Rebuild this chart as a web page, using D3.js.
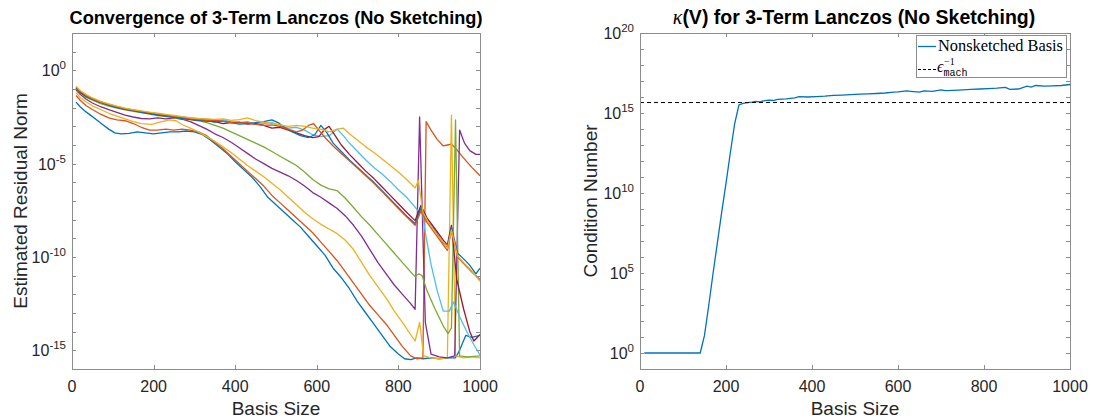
<!DOCTYPE html>
<html>
<head>
<meta charset="utf-8">
<script src="https://cdn.jsdelivr.net/npm/d3@7"></script>
<style>
  body { margin: 0; background: #fff; }
  svg { display: block; }
  text { font-family: "Liberation Sans", Arial, Helvetica, sans-serif; fill: #262626; }
</style>
</head>
<body>
<svg id="fig" width="1093" height="419"></svg>
<script>
// ---- Residual history: [basis size, log10 estimated residual norm] ----
const resid1 = [[10,-1.7],[20,-1.95],[30,-2.15],[45,-2.4],[60,-2.65],[75,-2.9],[90,-3.15],[105,-3.35],[120,-3.4],[140,-3.38],[160,-3.3],[180,-3.35],[200,-3.4],[220,-3.35],[240,-3.3],[260,-3.3],[280,-3.25],[300,-3.3],[320,-3.45],[340,-3.75],[360,-4.1],[380,-4.45],[400,-4.9],[420,-5.3],[440,-5.7],[460,-6.2],[480,-6.8],[500,-7.2],[520,-7.6],[540,-8.0],[560,-8.4],[580,-8.9],[600,-9.4],[620,-9.9],[640,-10.6],[660,-11.1],[680,-11.7],[700,-12.4],[720,-13.0],[740,-13.6],[760,-14.2],[780,-14.8],[800,-15.2],[815,-15.45],[830,-15.5],[845,-15.4],[860,-15.45],[880,-15.4],[900,-15.45],[920,-15.4],[940,-15.4],[950,-15.0],[965,-14.2],[980,-14.3],[1000,-14.2]];
const resid2 = [[10,-1.35],[20,-1.6],[35,-1.9],[50,-2.1],[70,-2.35],[90,-2.55],[110,-2.65],[130,-2.7],[150,-2.85],[170,-3.05],[190,-3.2],[210,-3.2],[230,-3.15],[250,-3.2],[270,-3.15],[290,-3.2],[310,-3.3],[330,-3.5],[350,-3.85],[370,-4.2],[390,-4.6],[410,-5.0],[430,-5.4],[450,-5.8],[470,-6.2],[490,-6.7],[510,-7.1],[530,-7.5],[550,-7.9],[570,-8.3],[590,-8.7],[610,-9.2],[630,-9.7],[650,-10.2],[670,-10.8],[690,-11.4],[710,-12.0],[730,-12.6],[750,-13.1],[770,-13.6],[790,-14.2],[810,-14.8],[830,-15.3],[845,-15.45],[860,-15.4],[868,-2.75],[880,-3.2],[895,-3.7],[910,-4.05],[920,-4.0],[930,-3.95],[945,-4.3],[960,-4.7],[980,-5.2],[1000,-5.65]];
const resid3 = [[10,-1.2],[20,-1.45],[35,-1.7],[50,-1.9],[70,-2.1],[90,-2.3],[110,-2.45],[130,-2.6],[150,-2.75],[170,-2.85],[195,-2.9],[220,-2.75],[240,-2.65],[255,-2.7],[270,-2.9],[290,-3.1],[310,-3.3],[330,-3.55],[350,-3.8],[370,-4.1],[390,-4.4],[410,-4.75],[430,-5.1],[450,-5.4],[470,-5.7],[490,-6.05],[510,-6.4],[530,-6.8],[550,-7.2],[570,-7.6],[590,-7.95],[610,-8.25],[630,-8.5],[650,-8.75],[670,-9.1],[690,-9.6],[710,-10.3],[730,-11.0],[750,-11.6],[770,-12.2],[790,-12.9],[810,-13.5],[825,-14.0],[841,-14.5],[852,-13.5],[862,-15.3],[880,-15.4],[900,-15.45],[920,-15.4],[930,-2.4],[940,-15.3],[960,-15.4],[980,-15.35],[1000,-15.4]];
const resid4 = [[10,-1.05],[20,-1.28],[35,-1.55],[50,-1.75],[70,-1.95],[90,-2.1],[110,-2.25],[130,-2.4],[150,-2.5],[170,-2.58],[190,-2.6],[210,-2.55],[230,-2.6],[250,-2.55],[270,-2.62],[290,-2.75],[310,-2.95],[330,-3.15],[350,-3.4],[370,-3.6],[390,-3.85],[410,-4.15],[430,-4.45],[450,-4.75],[470,-5.0],[490,-5.25],[510,-5.45],[530,-5.65],[550,-5.9],[570,-6.2],[590,-6.55],[610,-6.8],[630,-7.1],[650,-7.4],[670,-7.8],[690,-8.3],[710,-8.9],[730,-9.6],[750,-10.3],[770,-10.9],[790,-11.5],[810,-12.0],[830,-12.5],[841,-12.8],[852,-2.5],[866,-13.5],[880,-15.2],[900,-15.35],[920,-15.4],[938,-15.3],[950,-3.2],[962,-3.9],[975,-4.3],[990,-4.5],[1000,-4.5]];
const resid5 = [[10,-1.0],[20,-1.22],[35,-1.45],[50,-1.6],[70,-1.78],[90,-1.92],[110,-2.03],[130,-2.12],[150,-2.2],[170,-2.27],[190,-2.35],[210,-2.42],[230,-2.48],[250,-2.53],[270,-2.58],[290,-2.64],[310,-2.7],[330,-2.8],[350,-2.95],[370,-3.1],[390,-3.3],[410,-3.5],[430,-3.7],[450,-3.9],[470,-4.1],[490,-4.35],[510,-4.6],[530,-4.85],[550,-5.1],[570,-5.45],[590,-5.85],[610,-6.15],[630,-6.35],[650,-6.45],[670,-6.85],[690,-7.35],[710,-7.85],[730,-8.3],[750,-8.8],[770,-9.3],[790,-9.8],[810,-10.3],[830,-10.8],[841,-11.05],[850,-10.9],[858,-11.0],[870,-11.8],[890,-12.8],[910,-13.7],[922,-14.1],[930,-13.8],[940,-2.65],[950,-15.3],[970,-15.35],[1000,-15.3]];
const resid6 = [[10,-0.95],[20,-1.15],[35,-1.35],[50,-1.5],[70,-1.68],[90,-1.82],[110,-1.95],[130,-2.05],[150,-2.12],[170,-2.2],[190,-2.28],[210,-2.35],[230,-2.4],[250,-2.45],[270,-2.5],[290,-2.55],[310,-2.6],[330,-2.62],[350,-2.7],[370,-2.65],[390,-2.75],[410,-2.8],[430,-2.75],[450,-2.9],[470,-2.85],[490,-2.8],[510,-2.95],[530,-3.1],[550,-3.05],[570,-3.2],[590,-3.45],[610,-3.55],[630,-3.5],[650,-3.15],[665,-3.5],[680,-3.9],[700,-4.35],[720,-4.8],[740,-5.2],[760,-5.55],[780,-5.95],[800,-6.4],[820,-6.8],[840,-7.3],[850,-7.6],[856,-7.2],[866,-8.7],[880,-10.4],[895,-11.8],[910,-12.9],[925,-12.9],[935,-12.4],[950,-13.2],[970,-14.1],[985,-14.7],[1000,-15.25]];
const resid7 = [[10,-0.95],[20,-1.18],[35,-1.4],[50,-1.55],[70,-1.72],[90,-1.85],[110,-1.98],[130,-2.08],[150,-2.15],[170,-2.22],[190,-2.3],[210,-2.38],[230,-2.42],[250,-2.5],[270,-2.55],[290,-2.62],[310,-2.68],[330,-2.72],[350,-2.75],[370,-2.85],[390,-2.8],[410,-2.78],[430,-2.88],[450,-2.85],[470,-2.95],[490,-3.1],[510,-3.05],[530,-3.2],[550,-3.35],[570,-3.5],[590,-3.6],[605,-3.55],[620,-3.15],[630,-3.0],[645,-3.5],[660,-4.0],[680,-4.5],[700,-4.95],[720,-5.4],[740,-5.8],[760,-6.25],[780,-6.7],[800,-7.15],[820,-7.6],[841,-8.05],[855,-7.25],[870,-7.9],[890,-8.5],[910,-9.1],[920,-9.35],[930,-8.3],[943,-11.2],[960,-12.8],[975,-14.0],[985,-14.5],[1000,-14.15]];
const resid8 = [[10,-0.92],[20,-1.15],[35,-1.38],[50,-1.55],[70,-1.72],[90,-1.86],[110,-1.98],[130,-2.08],[150,-2.16],[170,-2.25],[190,-2.32],[210,-2.38],[230,-2.45],[250,-2.5],[270,-2.58],[290,-2.62],[310,-2.66],[330,-2.7],[350,-2.78],[370,-2.72],[390,-2.8],[410,-2.88],[430,-2.85],[450,-2.8],[470,-2.75],[490,-2.65],[505,-2.8],[520,-3.05],[540,-3.3],[560,-3.5],[580,-3.6],[595,-3.45],[610,-2.95],[625,-3.35],[640,-3.9],[660,-4.35],[680,-4.8],[700,-5.2],[720,-5.6],[740,-6.0],[760,-6.45],[780,-6.9],[800,-7.35],[820,-7.8],[841,-8.2],[855,-7.4],[870,-8.05],[890,-8.6],[910,-9.25],[920,-9.5],[930,-8.4],[945,-9.8],[960,-10.1],[975,-10.45],[990,-10.9],[1000,-10.6]];
const resid9 = [[10,-0.9],[20,-1.12],[35,-1.35],[50,-1.52],[70,-1.7],[90,-1.83],[110,-1.95],[130,-2.05],[150,-2.13],[170,-2.2],[190,-2.26],[210,-2.33],[230,-2.4],[250,-2.46],[270,-2.52],[290,-2.58],[310,-2.62],[330,-2.68],[350,-2.66],[370,-2.74],[390,-2.8],[410,-2.82],[430,-2.8],[450,-2.9],[470,-2.95],[490,-2.92],[510,-3.0],[530,-3.15],[550,-3.3],[565,-3.2],[580,-2.95],[592,-2.85],[605,-3.2],[620,-3.6],[640,-4.05],[660,-4.45],[680,-4.85],[700,-5.25],[720,-5.65],[740,-6.05],[760,-6.5],[780,-6.95],[800,-7.4],[820,-7.85],[841,-8.3],[855,-7.55],[870,-8.15],[890,-8.75],[910,-9.35],[920,-9.65],[930,-8.6],[945,-10.0],[960,-10.35],[980,-10.8],[1000,-11.2]];
const resid10 = [[10,-0.85],[20,-1.08],[35,-1.3],[50,-1.48],[70,-1.66],[90,-1.8],[110,-1.92],[130,-2.02],[150,-2.1],[170,-2.17],[190,-2.24],[210,-2.3],[230,-2.36],[250,-2.42],[270,-2.48],[290,-2.54],[310,-2.58],[330,-2.6],[350,-2.63],[370,-2.6],[390,-2.68],[410,-2.64],[430,-2.55],[450,-2.7],[470,-2.78],[490,-2.85],[510,-2.92],[530,-3.0],[550,-2.95],[570,-3.0],[590,-3.1],[610,-3.15],[630,-3.3],[650,-3.15],[665,-3.1],[680,-3.4],[700,-3.75],[720,-4.1],[740,-4.4],[760,-4.75],[780,-5.1],[800,-5.45],[820,-5.85],[841,-6.3],[849,-5.9],[860,-7.6],[875,-8.2],[895,-8.8],[910,-9.2],[920,-9.55],[930,-8.55],[945,-9.95],[960,-10.3],[980,-10.75],[1000,-11.3]];

const residSeries = [resid1, resid2, resid3, resid4, resid5, resid6, resid7, resid8, resid9, resid10];
const lineColors = ["#0072BD", "#D95319", "#EDB120", "#7E2F8E", "#77AC30", "#4DBEEE", "#A2142F", "#0072BD", "#D95319", "#EDB120"];

// ---- Condition number of the Krylov basis: [basis size, log10 kappa(V)] ----
const kappaBasis = [[10,0],[20,0],[40,0],[60,0],[80,0],[100,0],[120,0],[140,0],[150,1.1],[160,3.0],[170,5.0],[180,6.9],[190,8.8],[200,10.6],[210,12.5],[220,14.3],[230,15.5],[240,15.6],[250,15.65],[260,15.68],[270,15.72],[280,15.7],[290,15.78],[300,15.8],[310,15.78],[320,15.85],[340,15.88],[360,15.95],[370,16.02],[390,16.0],[410,16.02],[430,16.05],[450,16.1],[470,16.12],[490,16.15],[510,16.18],[530,16.2],[550,16.22],[570,16.25],[590,16.3],[600,16.32],[620,16.38],[630,16.35],[650,16.3],[660,16.38],[680,16.35],[700,16.45],[710,16.4],[730,16.42],[750,16.45],[770,16.48],[790,16.5],[810,16.52],[830,16.55],[850,16.6],[860,16.48],[880,16.5],[900,16.68],[910,16.62],[920,16.72],[940,16.68],[960,16.7],[980,16.72],[1000,16.78]];
const epsMachInv = Math.pow(2, 52);

// ---- Axis ticks ----
const xTicks = [0, 200, 400, 600, 800, 1000];
const residExpLabels = [-15, -10, -5, 0];
const kappaExpLabels = [0, 5, 10, 15, 20];

const svg = d3.select("#fig");
const axisColor = "#8c8c8c";
const serif = "'Liberation Serif', 'Times New Roman', serif";

function superLabel(g, x, y, exp, anchor) {
  const t = g.append("text").attr("x", x).attr("y", y)
    .attr("text-anchor", anchor).style("font-size", "16px");
  t.append("tspan").text("10");
  t.append("tspan").attr("dy", -7).style("font-size", "11.5px").text(String(exp));
  return t;
}

function drawFrame(g, x, y, expMin, expMax, labelExps) {
  const [x0, x1] = x.range();
  const [y1, y0] = y.range();
  const tk = 4;
  // box
  g.append("rect").attr("x", x0).attr("y", y0).attr("width", x1 - x0).attr("height", y1 - y0)
    .attr("fill", "none").attr("stroke", axisColor).attr("stroke-width", 1).attr("shape-rendering", "crispEdges");
  // x ticks (bottom and top, inward)
  xTicks.forEach(v => {
    const px = Math.round(x(v)) + 0.5;
    g.append("line").attr("x1", px).attr("x2", px).attr("y1", y1).attr("y2", y1 - tk).attr("stroke", axisColor);
    g.append("line").attr("x1", px).attr("x2", px).attr("y1", y0).attr("y2", y0 + tk).attr("stroke", axisColor);
    g.append("text").attr("x", x(v)).attr("y", y1 + 23).attr("text-anchor", "middle")
      .style("font-size", "16px").text(v);
  });
  // y ticks at every decade (left and right, inward)
  d3.range(expMin, expMax + 1).forEach(e => {
    const py = Math.round(y(Math.pow(10, e))) + 0.5;
    g.append("line").attr("x1", x0).attr("x2", x0 + tk).attr("y1", py).attr("y2", py).attr("stroke", axisColor);
    g.append("line").attr("x1", x1).attr("x2", x1 - tk).attr("y1", py).attr("y2", py).attr("stroke", axisColor);
  });
  labelExps.forEach(e => {
    superLabel(g, x0 - 6, y(Math.pow(10, e)) + 6, e, "end");
  });
}

// ================= Left: residual convergence =================
const xL = d3.scaleLinear().domain([0, 1000]).range([72, 480]);
const yL = d3.scaleLog().domain([1e-16, 1e2]).range([369, 33]);
const gL = svg.append("g");

const clipL = svg.append("clipPath").attr("id", "clipL");
clipL.append("rect").attr("x", 72).attr("y", 33).attr("width", 408).attr("height", 336);

const lineL = d3.line().x(d => xL(d[0])).y(d => yL(Math.pow(10, d[1])));
gL.append("g").attr("clip-path", "url(#clipL)")
  .selectAll("path").data(residSeries).join("path")
  .attr("d", lineL).attr("fill", "none")
  .attr("stroke", (d, i) => lineColors[i]).attr("stroke-width", 1.3)
  .attr("stroke-linejoin", "round");

drawFrame(gL, xL, yL, -16, 2, residExpLabels);

gL.append("text").attr("x", 276).attr("y", 24).attr("text-anchor", "middle")
  .style("font-size", "18.2px").style("font-weight", "bold").style("fill", "#000")
  .text("Convergence of 3-Term Lanczos (No Sketching)");
gL.append("text").attr("x", 276).attr("y", 415).attr("text-anchor", "middle")
  .style("font-size", "19px").text("Basis Size");
gL.append("text").attr("transform", "translate(27,201) rotate(-90)").attr("text-anchor", "middle")
  .style("font-size", "19px").text("Estimated Residual Norm");

// ================= Right: basis condition number =================
const xR = d3.scaleLinear().domain([0, 1000]).range([640, 1070]);
const yR = d3.scaleLog().domain([1e-1, 1e20]).range([369, 33]);
const gR = svg.append("g");

const lineR = d3.line().x(d => xR(d[0])).y(d => yR(Math.pow(10, d[1])));
gR.append("path").datum(kappaBasis).attr("d", lineR).attr("fill", "none")
  .attr("stroke", "#0072BD").attr("stroke-width", 1.3);
gR.append("line").attr("x1", xR(0)).attr("x2", xR(1000))
  .attr("y1", yR(epsMachInv)).attr("y2", yR(epsMachInv))
  .attr("stroke", "#000").attr("stroke-width", 1).attr("stroke-dasharray", "4,3");

drawFrame(gR, xR, yR, -1, 20, kappaExpLabels);

const titleR = gR.append("text").attr("x", 854).attr("y", 24).attr("text-anchor", "middle")
  .style("font-size", "19.5px").style("fill", "#000");
titleR.append("tspan").style("font-family", serif).style("font-style", "italic").style("font-size", "20px").text("κ");
titleR.append("tspan").style("font-weight", "bold").text("(V) for 3-Term Lanczos (No Sketching)");
gR.append("text").attr("x", 855).attr("y", 415).attr("text-anchor", "middle")
  .style("font-size", "19px").text("Basis Size");
gR.append("text").attr("transform", "translate(597,201) rotate(-90)").attr("text-anchor", "middle")
  .style("font-size", "19px").text("Condition Number");

// legend
const lg = gR.append("g");
lg.append("rect").attr("x", 916.5).attr("y", 35.5).attr("width", 150).attr("height", 42)
  .attr("fill", "#fff").attr("stroke", axisColor);
lg.append("line").attr("x1", 918).attr("x2", 936).attr("y1", 46.5).attr("y2", 46.5)
  .attr("stroke", "#0072BD").attr("stroke-width", 1.3);
lg.append("text").attr("x", 938).attr("y", 50.5)
  .attr("textLength", 125).attr("lengthAdjust", "spacingAndGlyphs")
  .style("font-family", serif).style("font-size", "16.5px").style("fill", "#000")
  .text("Nonsketched Basis");
lg.append("line").attr("x1", 918).attr("x2", 936).attr("y1", 69.5).attr("y2", 69.5)
  .attr("stroke", "#000").attr("stroke-width", 1).attr("stroke-dasharray", "3,2");
const eps = lg.append("text").attr("x", 937).attr("y", 72)
  .style("font-family", serif).style("font-size", "16px").style("fill", "#000");
eps.append("tspan").style("font-style", "italic").text("ϵ");
eps.append("tspan").attr("dy", 4).style("font-family", "'Liberation Mono', monospace").style("font-size", "10px").text("mach");
lg.append("text").attr("x", 944).attr("y", 64.5)
  .style("font-family", serif).style("font-size", "10px").style("fill", "#000")
  .text("−1");
</script>
</body>
</html>
